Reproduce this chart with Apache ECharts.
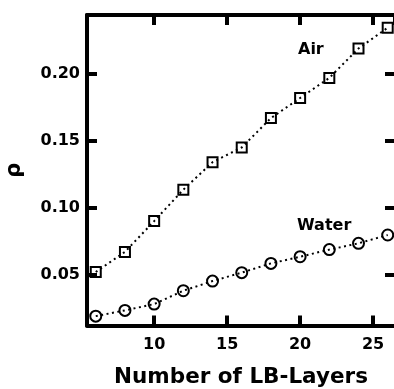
<!DOCTYPE html>
<html>
<head>
<meta charset="utf-8">
<script src="https://cdn.jsdelivr.net/npm/echarts@6/dist/echarts.min.js"></script>
<style>
html,body{margin:0;padding:0;background:#fff;overflow:hidden;}
#c{width:394px;height:389px;}
</style>
</head>
<body>
<div id="c"></div>
<script>
const layers = [6, 8, 10, 12, 14, 16, 18, 20, 22, 24, 26];
const airRho = [0.052, 0.067, 0.090, 0.1135, 0.134, 0.145, 0.167, 0.182, 0.197, 0.219, 0.2345];
const waterRho = [0.019, 0.0233, 0.028, 0.038, 0.0452, 0.0515, 0.0584, 0.0634, 0.0687, 0.0734, 0.0796];
const xTitle = 'Number of LB-Layers';
const yTitle = 'ρ';
const seriesNames = ['Air', 'Water'];

const FONT = "'DejaVu Sans', sans-serif";
const chart = echarts.init(document.getElementById('c'), null, {renderer: 'canvas'});

const pairs = (xs, ys) => xs.map((x, i) => [x, ys[i]]);

const tickStyle = {show: true, inside: true, length: 10, lineStyle: {color: '#000', width: 4}};
const lineStyleAxis = {show: true, onZero: false, lineStyle: {color: '#000', width: 4}};
const lbl = {fontFamily: FONT, fontWeight: 'bold', fontSize: 16, color: '#000'};

chart.setOption({
  animation: false,
  backgroundColor: '#fff',
  grid: {left: 87, top: 15, width: 308, height: 310.5, containLabel: false, outerBoundsMode: 'none'},
  xAxis: [
    {
      type: 'value', min: 5.4, max: 26.5, position: 'bottom',
      axisLine: lineStyleAxis, axisTick: tickStyle, splitLine: {show: false},
      axisLabel: Object.assign({margin: 11, showMinLabel: false, showMaxLabel: false}, lbl),
      name: xTitle, nameLocation: 'middle', nameGap: 41,
      nameTextStyle: {fontFamily: FONT, fontWeight: 'bold', fontSize: 21.5, color: '#000'}
    },
    {
      type: 'value', min: 5.4, max: 26.5, position: 'top',
      axisLine: lineStyleAxis, axisTick: tickStyle, splitLine: {show: false},
      axisLabel: {show: false}
    }
  ],
  yAxis: [
    {
      type: 'value', min: 0.012, max: 0.244, position: 'left',
      axisLine: lineStyleAxis, axisTick: tickStyle, splitLine: {show: false},
      axisLabel: Object.assign({margin: 7, showMinLabel: false, showMaxLabel: false,
        formatter: v => v.toFixed(2)}, lbl),
      name: yTitle, nameLocation: 'middle', nameGap: 62, nameRotate: 90,
      nameTextStyle: {fontFamily: FONT, fontWeight: 'bold', fontSize: 21, color: '#000'}
    },
    {
      type: 'value', min: 0.012, max: 0.244, position: 'right',
      axisLine: {show: false}, axisTick: tickStyle, splitLine: {show: false},
      axisLabel: {show: false}
    }
  ],
  series: [
    {
      name: seriesNames[0], type: 'line', data: pairs(layers, airRho),
      symbol: 'rect', symbolSize: 10,
      itemStyle: {color: 'transparent', borderColor: '#000', borderWidth: 2},
      lineStyle: {color: '#000', width: 2, type: [2, 3.5]},
      z: 3
    },
    {
      name: seriesNames[1], type: 'line', data: pairs(layers, waterRho),
      symbol: 'circle', symbolSize: 11,
      itemStyle: {color: 'transparent', borderColor: '#000', borderWidth: 2},
      lineStyle: {color: '#000', width: 2, type: [2, 3.5]},
      z: 3
    }
  ],
  graphic: [
    {type: 'text', left: 298, top: 42, style: {text: seriesNames[0], font: "bold 16px " + FONT, fill: '#000'}},
    {type: 'text', left: 297, top: 218, style: {text: seriesNames[1], font: "bold 16px " + FONT, fill: '#000'}}
  ]
});
</script>
</body>
</html>
